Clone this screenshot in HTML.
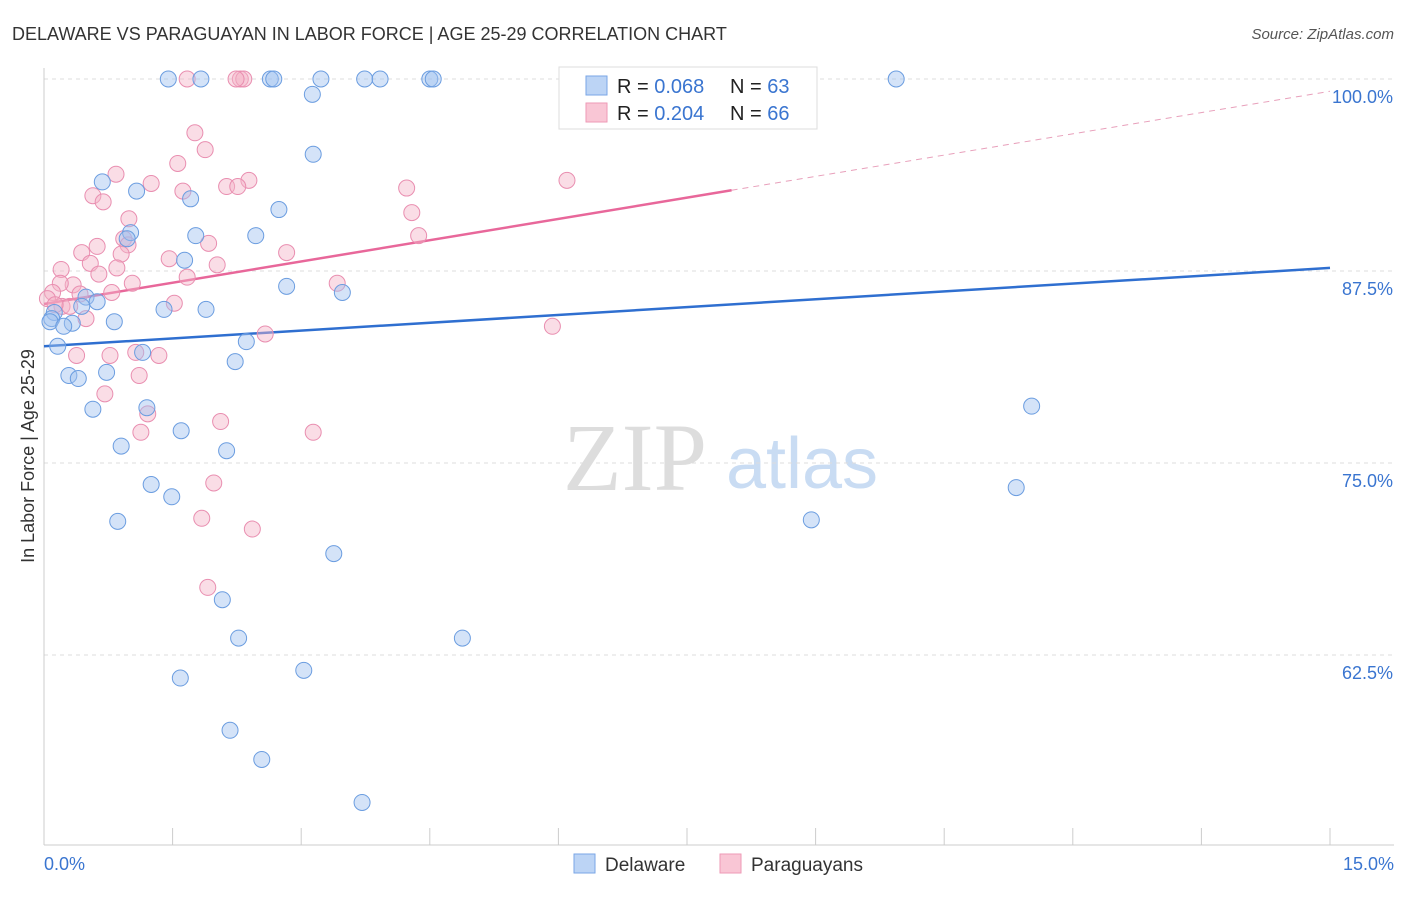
<!DOCTYPE html>
<html><head><meta charset="utf-8"><style>
body{margin:0;background:#fff;font-family:"Liberation Sans",sans-serif;}
</style></head><body>
<svg id="chart" width="1406" height="892" xmlns="http://www.w3.org/2000/svg">
<text x="12" y="40" font-size="18" fill="#333">DELAWARE VS PARAGUAYAN IN LABOR FORCE | AGE 25-29 CORRELATION CHART</text>
<text x="1394" y="39" font-size="15" fill="#555" font-style="italic" text-anchor="end">Source: ZipAtlas.com</text>
<text x="0" y="0" transform="translate(34,456) rotate(-90)" font-size="18" fill="#333" text-anchor="middle">In Labor Force | Age 25-29</text>
<g><text x="635" y="490" font-size="96" fill="#ddd" font-family="Liberation Serif,serif" text-anchor="middle">ZIP</text><text x="802" y="488" font-size="72" fill="#c9dcf3" text-anchor="middle">atlas</text></g>
<g id="grid"></g><g id="axes"></g><g id="lines"></g><g id="dots"></g>
<g>
<rect x="559" y="67" width="258" height="62" fill="#fff" stroke="#ddd"/>
<rect x="586" y="76" width="21" height="19" fill="#bcd4f5" stroke="#7aa6e6"/>
<rect x="586" y="103" width="21" height="19" fill="#f9c6d5" stroke="#ee9ab6"/>
<text x="617" y="93" font-size="20" fill="#222">R = <tspan fill="#3a75d0">0.068</tspan></text>
<text x="730" y="93" font-size="20" fill="#222">N = <tspan fill="#3a75d0">63</tspan></text>
<text x="617" y="120" font-size="20" fill="#222">R = <tspan fill="#3a75d0">0.204</tspan></text>
<text x="730" y="120" font-size="20" fill="#222">N = <tspan fill="#3a75d0">66</tspan></text>
</g>
<g>
<rect x="574" y="854" width="21" height="19" fill="#bcd4f5" stroke="#7aa6e6"/>
<text x="605" y="871" font-size="19" fill="#333">Delaware</text>
<rect x="720" y="854" width="21" height="19" fill="#f9c6d5" stroke="#ee9ab6"/>
<text x="751" y="871" font-size="19" fill="#333">Paraguayans</text>
</g>
</svg>
<script>
const blueX=[1.45,1.83,2.64,2.68,3.23,3.74,3.92,4.50,4.54,9.94,3.13,3.14,0.68,1.08,1.71,2.74,1.01,0.97,1.77,2.47,1.64,2.83,3.48,0.49,0.62,0.44,1.40,1.89,0.12,0.09,0.07,0.33,0.23,0.82,0.16,2.36,1.15,2.23,0.29,0.40,0.73,0.57,1.20,1.60,0.90,2.13,1.25,1.49,0.86,3.38,2.08,2.27,4.88,1.59,3.03,2.17,2.54,3.71,8.95,11.52,11.34];
const blueY=[100,100,100,100,100,100,100,100,100,100,99.0,95.1,93.3,92.7,92.2,91.5,90.0,89.6,89.8,89.8,88.2,86.5,86.1,85.8,85.5,85.2,85.0,85.0,84.8,84.4,84.2,84.1,83.9,84.2,82.6,82.9,82.2,81.6,80.7,80.5,80.9,78.5,78.6,77.1,76.1,75.8,73.6,72.8,71.2,69.1,66.1,63.6,63.6,61.0,61.5,57.6,55.7,52.9,71.3,78.7,73.4];
const pinkX=[1.67,2.29,2.33,2.24,6.91,1.76,1.88,1.56,0.84,1.25,1.62,2.13,2.39,2.26,0.57,0.69,4.23,6.10,4.29,0.99,0.93,0.98,0.62,1.92,0.44,4.37,0.90,2.83,1.46,0.54,0.64,0.20,0.85,2.02,1.67,1.03,0.79,0.34,0.19,3.42,1.52,0.10,0.04,0.21,0.30,0.49,0.13,0.42,2.58,5.93,0.38,0.77,1.07,1.34,1.11,0.71,1.21,2.06,1.13,3.14,1.98,1.84,2.43,1.91];
const pinkY=[100,100,100,100,100,96.5,95.4,94.5,93.8,93.2,92.7,93.0,93.4,93.0,92.4,92.0,92.9,93.4,91.3,90.9,89.6,89.2,89.1,89.3,88.7,89.8,88.6,88.7,88.3,88.0,87.3,87.6,87.7,87.9,87.1,86.7,86.1,86.6,86.7,86.7,85.4,86.1,85.7,85.2,85.2,84.4,85.3,86.0,83.4,83.9,82.0,82.0,82.2,82.0,80.7,79.5,78.2,77.7,77.0,77.0,73.7,71.4,70.7,66.9];
const yTicks=[100,87.5,75,62.5];
const yTickLabels=["100.0%","87.5%","75.0%","62.5%"];
const trendBlue=[82.6,87.7];   // value at x=0, x=15
const trendPink=[85.35,99.2];
const pinkSolidEnd=8.02;
const NS="http://www.w3.org/2000/svg";
const X=v=>44+v/15*1286, Y=v=>79+(100-v)*15.36;
function mk(t,a,p){const e=document.createElementNS(NS,t);for(const k in a)e.setAttribute(k,a[k]);p.appendChild(e);return e;}
const grid=document.getElementById('grid'),axes=document.getElementById('axes'),lines=document.getElementById('lines'),dots=document.getElementById('dots');
yTicks.forEach((t,i)=>{
 const g=mk('line',{x1:44,x2:1394,y1:Y(t),y2:Y(t),stroke:'#ddd','stroke-dasharray':'4,4'},grid);
 
 
 const l=mk('text',{x:1393,y:Y(t)+24,'font-size':18,fill:'#3a75d0','text-anchor':'end'},axes);l.textContent=yTickLabels[i];
 
 
});
mk('line',{x1:44,x2:44,y1:68,y2:845,stroke:'#ccc'},axes);
mk('line',{x1:44,x2:1394,y1:845,y2:845,stroke:'#ccc'},axes);
for(let i=0;i<=10;i++){const t=mk('line',{x1:X(i*1.5),x2:X(i*1.5),y1:828,y2:845,stroke:'#ccc'},axes);
 
 }
let a=mk('text',{x:44,y:870,'font-size':18,fill:'#3a75d0'},axes);a.textContent="0.0%";


a=mk('text',{x:1394,y:870,'font-size':18,fill:'#3a75d0','text-anchor':'end'},axes);a.textContent="15.0%";


function draw(xs,ys,fill,stroke,name){xs.forEach((x,i)=>{const c=mk('circle',{cx:X(x),cy:Y(ys[i]),r:8,fill:fill,'fill-opacity':0.45,stroke:stroke,'stroke-width':1},dots);
 
 });}
draw(pinkX,pinkY,'#f5b3c8','#e98eb0','paraguayan-point');
draw(blueX,blueY,'#9fc2ef','#6b9de0','delaware-point');
const tv=(t,x)=>t[0]+(t[1]-t[0])*x/15;
let ln=mk('line',{x1:X(0),y1:Y(tv(trendBlue,0)),x2:X(15),y2:Y(tv(trendBlue,15)),stroke:'#2f6fd0','stroke-width':2.5},lines);


ln=mk('line',{x1:X(0),y1:Y(tv(trendPink,0)),x2:X(pinkSolidEnd),y2:Y(tv(trendPink,pinkSolidEnd)),stroke:'#e8679a','stroke-width':2.5},lines);


ln=mk('line',{x1:X(pinkSolidEnd),y1:Y(tv(trendPink,pinkSolidEnd)),x2:X(15),y2:Y(tv(trendPink,15)),stroke:'#e8a0bb','stroke-width':1,'stroke-dasharray':'6,5'},lines);


</script>
</body></html>
